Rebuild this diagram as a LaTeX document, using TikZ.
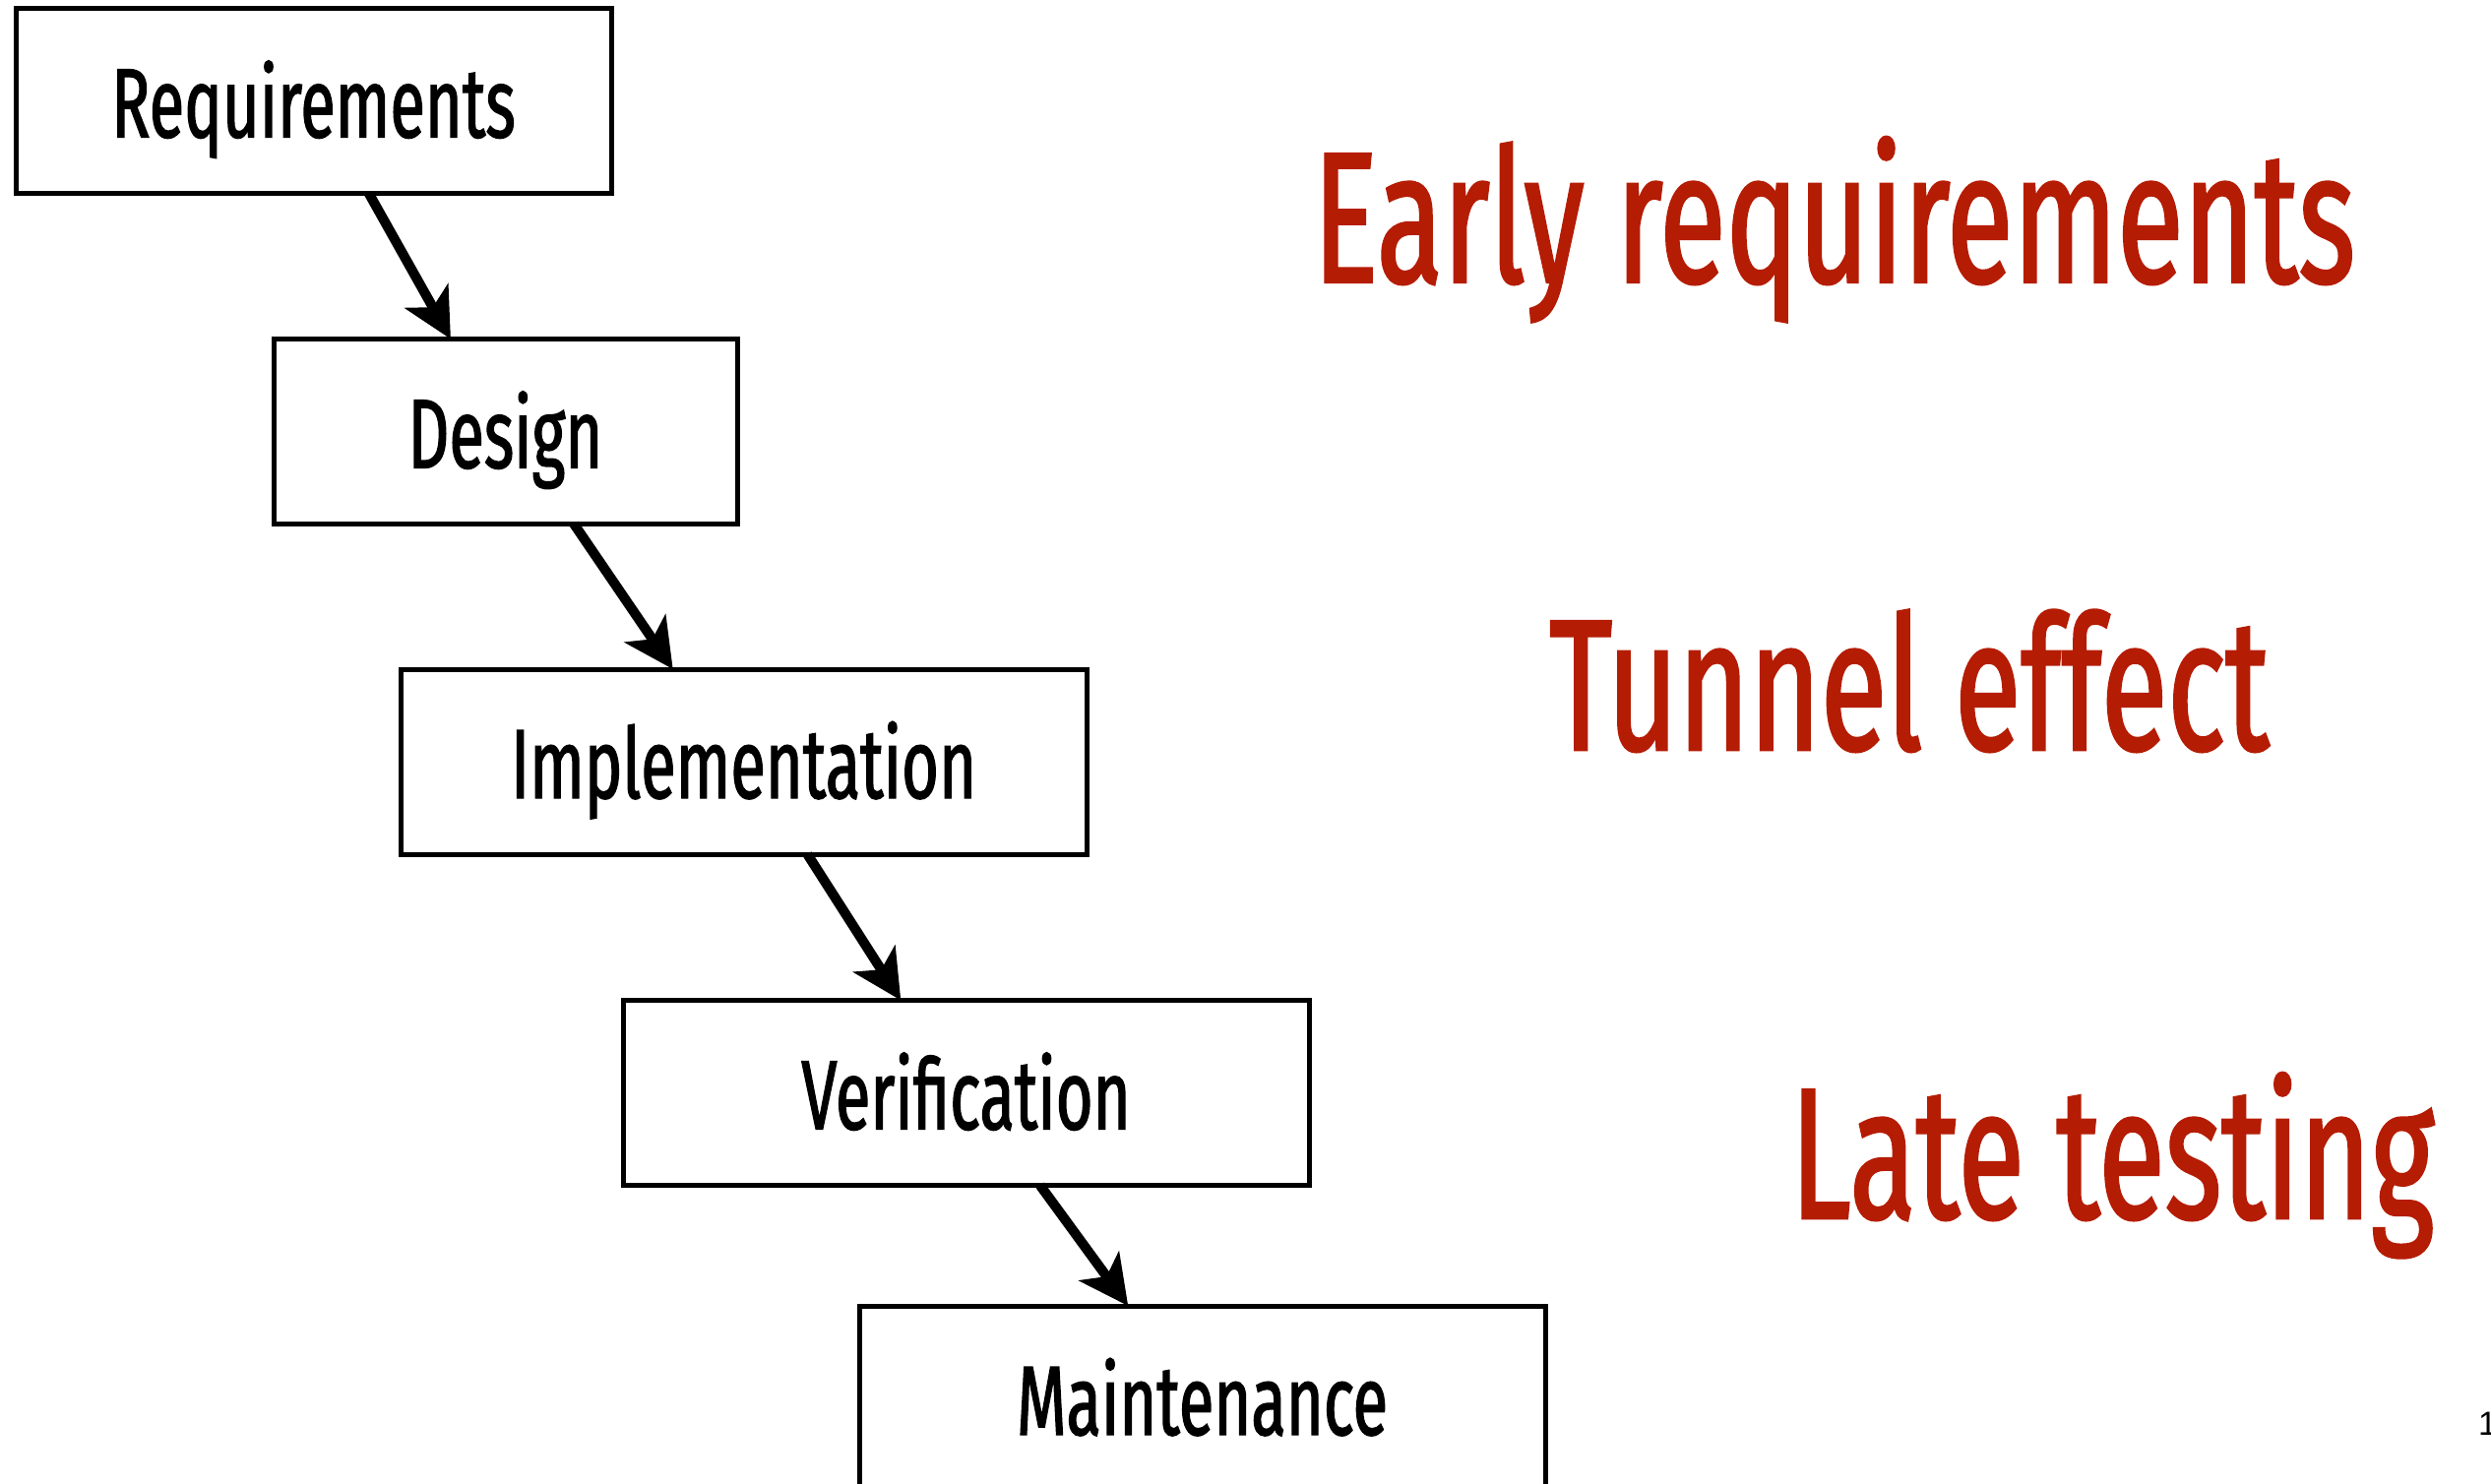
\documentclass[tikz,border=0pt]{standalone}
\usepackage{fontspec}
\usetikzlibrary{arrows.meta,calc}
\newfontfamily\boxfont[FakeStretch=0.65,FakeBold=1.3]{Fira Sans}
\newfontfamily\numfont{Liberation Sans}
\definecolor{slidered}{RGB}{181,28,4}
\tikzset{
  stage/.style={draw=black, line width=5pt, inner sep=0pt, outer sep=0pt, minimum height=188pt,
    text height=74pt, text depth=0pt,
    font=\boxfont\fontsize{100}{110}\selectfont},
  flow/.style={line width=10pt, -{Stealth[length=50pt,width=50pt,inset=13pt]}},
  remark/.style={anchor=base west, inner sep=0pt, text=slidered, font=\boxfont\fontsize{190}{200}\selectfont}
}
\begin{document}
\begin{tikzpicture}[x=1pt,y=-1pt]
\useasboundingbox (0,0) rectangle (2531,1507);
\node[stage, minimum width=605pt] (req) at (318.5,102.5) {Requirements};
\node[stage, minimum width=471pt] (des) at (513.5,438.5) {Design};
\node[stage, minimum width=697pt] (imp) at (755.5,774) {Implementation};
\node[stage, minimum width=697pt] (ver) at (981.5,1110.5) {Verification};
\node[stage, minimum width=697pt] (mai) at (1221.5,1421) {Maintenance};
\draw[flow] ($(req.south west)!0.593!(req.south east)$) -- ($(des.north west)!0.382!(des.north east)$);
\draw[flow] ($(des.south west)!0.648!(des.south east)$) -- ($(imp.north west)!0.397!(imp.north east)$);
\draw[flow] ($(imp.south west)!0.593!(imp.south east)$) -- ($(ver.north west)!0.405!(ver.north east)$);
\draw[flow] ($(ver.south west)!0.608!(ver.south east)$) -- ($(mai.north west)!0.392!(mai.north east)$);
\node[remark] (early) at (1334,287) {Early requirements};
\node[remark] (tunnel) at (1574,762) {Tunnel effect};
\node[remark] (late) at (1819,1238) {Late testing};
\node[anchor=base west, inner sep=0pt, font=\numfont\fontsize{34}{40}\selectfont] (pg) at (2518,1458) {1};
\end{tikzpicture}
\end{document}
